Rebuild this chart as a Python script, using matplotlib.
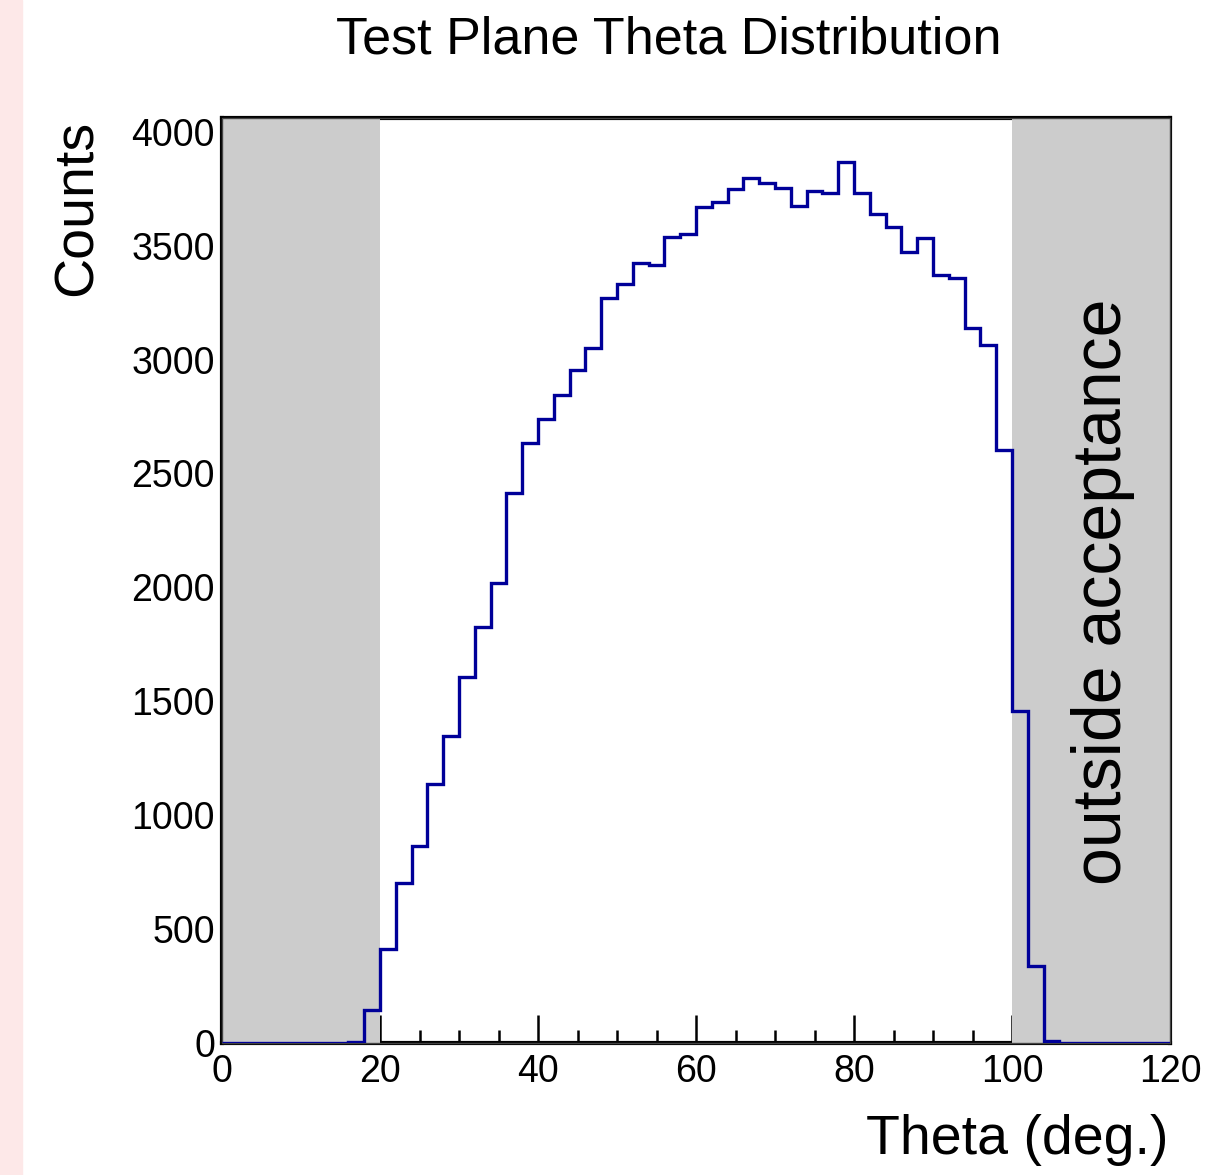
import numpy as np
import matplotlib
matplotlib.use("Agg")
import matplotlib.pyplot as plt
from matplotlib.patches import Rectangle
from matplotlib.ticker import MultipleLocator

plt.rcParams['font.family'] = ['Liberation Sans', 'DejaVu Sans']

# theta histogram, 2 degree bins from 0 to 120
bin_edges = np.arange(0, 122, 2)
counts = [0, 0, 0, 0, 0, 0, 0, 0,
          6, 145, 412, 703, 866, 1136, 1346, 1605, 1827, 2018,
          2416, 2632, 2739, 2844, 2954, 3051, 3272, 3332, 3424, 3417,
          3537, 3552, 3669, 3691, 3749, 3799, 3774, 3755, 3676, 3738,
          3729, 3867, 3729, 3637, 3584, 3474, 3533, 3373, 3357, 3140,
          3065, 2605, 1459, 340, 10,
          0, 0, 0, 0, 0, 0, 0]
acceptance = (20, 100)
x_range = (0, 120)

W, H = 1205, 1175
fig = plt.figure(figsize=(W / 100, H / 100), dpi=100)
fig.patches.append(Rectangle((0, 0), 22 / W, 1, transform=fig.transFigure,
                             color='#fde8e8', zorder=0))

ax = fig.add_axes([222 / W, 1 - 1043 / H, (1170 - 222) / W, (1043 - 118) / H])

# shaded regions outside acceptance
ax.axvspan(x_range[0], acceptance[0], color='#cccccc', lw=0, zorder=3)
ax.axvspan(acceptance[1], x_range[1], color='#cccccc', lw=0, zorder=3)
ax.add_patch(Rectangle((0, 0), 1, 1, transform=ax.transAxes, fill=False,
                       edgecolor='#444444', lw=1.0, zorder=3.2, clip_on=False))

ax.stairs(counts, bin_edges, color='#000099', lw=2.4, zorder=4)

ax.set_xlim(*x_range)
ax.set_ylim(0, 1.05 * max(counts))
for s in ax.spines.values():
    s.set_linewidth(3)

ax.xaxis.set_major_locator(MultipleLocator(20))
ax.xaxis.set_minor_locator(MultipleLocator(5))
ax.yaxis.set_major_locator(MultipleLocator(500))
ax.tick_params(axis='x', which='major', direction='in', length=20, width=1.8,
               labelsize=27, pad=8)
ax.tick_params(axis='x', which='minor', direction='in', length=9.5, width=1.8)
ax.tick_params(axis='y', which='major', direction='in', length=20, width=1.8,
               labelsize=27, pad=5)

ax.text(111.5, 1980, 'outside acceptance', rotation=90, ha='center', va='center',
        fontsize=49, zorder=5)

fig.text(669 / W, 1 - 40 / H, 'Test Plane Theta Distribution', ha='center',
         va='center', fontsize=37.5)
fig.text(78 / W, 1 - 120 / H, 'Counts', ha='center', va='top', rotation=90,
         fontsize=40)
fig.text(1168 / W, 1 - 1140 / H, 'Theta (deg.)', ha='right', va='center',
         fontsize=40)

fig.savefig('out.png', dpi=100)
